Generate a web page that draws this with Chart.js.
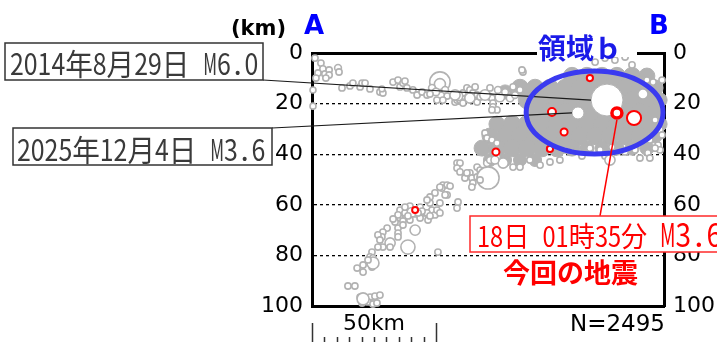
<!DOCTYPE html>
<html lang="ja">
<head>
<meta charset="utf-8">
<title>断面図 A-B</title>
<script src="https://cdn.jsdelivr.net/npm/chart.js@4.4.1/dist/chart.umd.min.js"></script>
<style>
  html, body { margin: 0; padding: 0; background: #fff; }
  #wrap { width: 717px; height: 342px; }
</style>
</head>
<body>
<div id="wrap"><canvas id="quakeChart" width="717" height="342"></canvas></div>
<script>
// 断面 A-B : 横軸は A からの距離(km)、縦軸は深さ(km)
const distMax = 142;
const depthTicks = [0, 20, 40, 60, 80, 100];
const totalCount = 2495;

// 過去の地震（灰色の○）
const grayDist = [1.2, 3.6, 4.4, 2.4, 5.2, 6.9, 6.9, 1.6, 5.6, 10.5, 10.9, 0.4, 0.4, 12.1, 15.3, 16.5, 19.4, 20.2, 21.4, 23.4,
  27.4, 28.6, 28.2, 32.7, 34.7, 35.5, 36.7, 37.5, 38.3, 40.7, 42.4, 44.4, 46.4, 50.4, 51.6, 51.6, 48.4, 50.0, 53.7, 47.6,
  54.5, 52.8, 56.9, 57.7, 58.5, 59.7, 60.9, 60.9, 62.5, 62.9, 63.7, 64.9, 65.8, 66.6, 66.6, 67.8, 71.8, 71.8, 72.6, 73.0,
  73.0, 74.6, 72.6, 78.7, 81.1, 83.9, 85.1, 58.9, 63.7, 69.8, 75.8, 77.9, 75.0, 79.9, 81.9, 57.7,
  135.1, 137.6, 141.2, 118.2, 122.2, 126.3, 114.2, 129.1, 84.7,
  69.8, 70.6, 72.6, 74.6,
  58.5, 59.7, 58.5, 59.7, 63.7, 66.6, 61.7, 62.5, 64.5, 66.6, 67.8, 69.0, 70.6, 71.8, 74.6, 77.1, 71.0, 64.9, 64.5, 67.8,
  81.1, 83.9, 52.8, 54.5, 55.7, 52.4, 51.6, 54.5, 53.7, 51.6, 47.6, 49.6, 47.6, 46.4, 58.9, 58.5,
  35.5, 37.5, 39.5, 43.6, 45.6, 48.4, 49.6, 35.5, 33.5, 39.5, 43.6, 46.8, 46.4, 50.4, 51.6, 41.6, 37.5, 34.7, 32.7, 40.3,
  44.4, 38.7, 42.8, 47.6, 36.7, 41.6, 34.7, 36.7, 34.7, 30.3, 28.6, 28.2, 26.6, 31.5, 38.7, 31.5, 28.6, 34.7, 27.4, 24.2,
  23.4, 24.6, 25.4, 20.6, 18.2, 20.6, 24.2, 24.6, 22.6, 26.6, 50.8, 14.5, 17.3, 19.4, 21.4, 23.4, 25.4, 27.4, 20.2, 22.6,
  24.6, 26.2, 20.6,
  138.4, 140.4, 136.3, 139.6, 141.2, 140.4,
  112.1, 116.2, 121.0, 126.3, 130.3, 135.5, 138.4, 108.9, 118.2, 120.2, 132.3, 136.3, 104.9, 102.1, 100.0, 96.0, 92.0, 87.9,
  133.5, 73.8];
const grayDepth = [2.0, 4.0, 6.3, 7.9, 8.3, 6.7, 8.7, 9.9, 9.9, 5.9, 7.5, 14.6, 21.0, 13.8, 13.0, 11.9, 13.4, 11.9, 11.9, 14.2,
  15.4, 15.8, 14.2, 11.5, 10.7, 13.4, 11.9, 11.1, 13.8, 14.6, 16.6, 15.4, 16.6, 18.6, 11.5, 12.3, 13.8, 15.4, 14.6, 16.2,
  17.0, 18.6, 16.6, 19.4, 18.6, 18.6, 19.8, 15.8, 13.8, 17.8, 14.6, 15.8, 13.4, 16.6, 19.4, 17.4, 13.8, 17.4, 17.8, 19.8,
  21.3, 22.5, 22.5, 15.8, 13.4, 14.6, 7.5, 17.0, 17.8, 16.6, 17.4, 15.4, 14.6, 17.8, 16.6, 16.6,
  10.7, 11.5, 10.7, 2.0, 2.8, 1.6, 3.6, 4.7, 6.7,
  31.6, 33.6, 34.4, 35.6,
  43.5, 43.5, 45.5, 47.0, 47.4, 45.1, 49.4, 47.4, 49.4, 49.0, 46.3, 47.0, 43.5, 42.3, 41.1, 43.5, 49.4, 51.4, 53.0, 50.2,
  45.1, 45.1, 52.2, 52.2, 52.6, 53.4, 53.0, 56.1, 56.1, 59.3, 59.3, 55.3, 56.9, 58.1, 58.9, 61.3,
  62.1, 63.2, 60.5, 60.9, 63.2, 62.1, 64.0, 65.2, 66.8, 66.0, 65.2, 66.0, 63.2, 62.1, 63.2, 63.6, 60.9, 64.0, 65.6, 62.9,
  62.5, 64.4, 63.2, 64.4, 66.4, 70.0, 69.2, 68.0, 71.2, 69.2, 70.8, 72.7, 71.9, 75.1, 76.7, 76.7, 76.7, 72.7, 73.9, 78.7,
  80.6, 81.0, 83.0, 83.8, 85.0, 86.6, 84.6, 83.0, 81.8, 76.7, 78.7, 92.1, 92.1, 96.5, 96.8, 96.5, 96.1, 95.7, 98.8, 98.4,
  99.2, 98.8, 97.2,
  26.5, 30.4, 34.4, 36.4, 32.4, 38.3,
  37.6, 38.3, 37.2, 39.1, 38.3, 39.5, 37.6, 40.7, 40.7, 42.3, 41.5, 41.5, 39.1, 38.3, 42.3, 43.1, 44.3, 42.3,
  16.2, 42.3];
const grayMag = [2.0, 2.0, 2.0, 2.0, 2.0, 2.0, 2.0, 2.0, 2.0, 2.2, 2.0, 1.9, 1.9, 2.0, 2.0, 2.0, 2.0, 2.0, 2.0, 2.0,
  2.0, 2.0, 1.8, 2.0, 2.0, 2.0, 2.0, 2.0, 2.0, 2.0, 2.0, 2.0, 2.0, 2.0, 4.9, 3.4, 2.2, 2.4, 2.2, 2.0,
  2.0, 2.0, 2.2, 2.0, 2.0, 2.0, 2.0, 2.0, 2.0, 2.0, 2.0, 2.0, 2.0, 2.0, 2.0, 2.0, 2.0, 2.0, 2.0, 2.0,
  2.0, 2.0, 2.0, 2.0, 2.0, 2.0, 2.0, 3.0, 3.2, 3.3, 3.0, 2.2, 2.2, 2.4, 2.2, 3.2,
  2.0, 2.0, 2.0, 2.0, 2.0, 2.0, 2.0, 2.0, 2.0,
  2.0, 2.0, 2.0, 2.0,
  2.0, 2.0, 2.0, 2.0, 2.0, 2.0, 2.0, 2.0, 2.0, 2.0, 2.0, 2.0, 2.2, 2.2, 2.2, 3.2, 5.1, 2.0, 2.0, 2.0,
  2.0, 2.0, 2.0, 2.0, 2.0, 2.0, 2.0, 2.0, 2.0, 2.0, 2.0, 2.0, 2.0, 2.0, 2.0, 2.0,
  2.0, 2.0, 2.0, 2.0, 2.0, 2.0, 2.0, 2.0, 2.0, 2.0, 2.0, 2.0, 2.0, 2.0, 2.0, 2.0, 2.0, 2.0, 2.0, 3.0,
  2.0, 2.0, 2.0, 2.0, 2.0, 3.2, 2.0, 2.0, 2.0, 2.0, 2.0, 2.0, 2.0, 3.2, 4.0, 2.0, 2.0, 2.0, 2.0, 2.0,
  2.0, 2.0, 2.0, 2.0, 2.0, 2.0, 2.0, 3.6, 2.0, 2.0, 2.0, 2.0, 2.0, 2.0, 2.0, 2.0, 2.0, 2.0, 2.0, 2.0,
  2.0, 2.0, 3.6,
  2.0, 2.0, 2.0, 2.0, 2.0, 2.0,
  2.0, 2.0, 2.0, 2.0, 2.0, 2.0, 2.0, 2.0, 2.0, 3.2, 2.0, 2.0, 2.0, 2.0, 2.0, 2.0, 2.0, 2.0,
  3.2, 2.6];

// 領域ｂ付近の密集部（重なった○は塗りつぶしに見える）
const clusterDist = [104.9, 110.9, 117.0, 123.0, 129.1, 135.1,
  77.9, 83.9, 90.0, 96.0, 102.1, 108.1, 114.2, 120.2, 126.3, 132.3, 138.4,
  86.7, 92.8, 98.8, 104.9, 110.9, 117.0, 123.0, 129.1, 135.1, 140.4,
  90.0, 96.0, 102.1, 108.1, 114.2, 120.2, 126.3, 132.3, 138.4,
  74.6, 80.7, 86.7, 92.8, 98.8, 104.9, 110.9, 117.0, 123.0, 129.1, 135.1, 140.4,
  71.8, 77.9, 83.9, 90.0, 96.0, 102.1, 108.1, 114.2, 120.2, 126.3, 132.3, 138.4,
  68.6, 74.6, 80.7, 86.7, 92.8, 98.8, 104.9, 110.9, 117.0, 123.0, 129.1, 135.1,
  71.8, 77.9, 83.9, 90.0];
const clusterDepth = [9.1, 9.1, 9.1, 9.1, 9.1, 9.1,
  15.4, 13.8, 13.8, 13.8, 13.8, 13.8, 13.8, 13.8, 13.8, 13.8, 13.8,
  18.6, 18.6, 18.6, 18.6, 18.6, 18.6, 18.6, 18.6, 18.6, 18.6,
  23.3, 23.3, 23.3, 23.3, 23.3, 23.3, 23.3, 23.3, 23.3,
  28.1, 28.1, 28.1, 28.1, 28.1, 28.1, 28.1, 28.1, 28.1, 28.1, 28.1, 28.1,
  32.8, 32.8, 32.8, 32.8, 32.8, 32.8, 32.8, 32.8, 32.8, 32.8, 32.8, 32.8,
  37.6, 37.6, 37.6, 37.6, 37.6, 37.6, 37.6, 37.6, 37.6, 37.6, 37.6, 37.6,
  42.3, 42.3, 42.3, 42.3];
const clusterMag = [4.5, 4.5, 4.5, 4.5, 4.5, 4.3,
  4.0, 4.5, 4.5, 4.5, 4.5, 4.5, 4.5, 4.5, 4.5, 4.5, 4.3,
  4.5, 4.5, 4.5, 4.5, 4.5, 4.5, 4.5, 4.5, 4.5, 4.0,
  4.5, 4.5, 4.5, 4.5, 4.5, 4.5, 4.5, 4.5, 4.3,
  4.3, 4.5, 4.5, 4.5, 4.5, 4.5, 4.5, 4.5, 4.5, 4.5, 4.5, 4.0,
  4.3, 4.5, 4.5, 4.5, 4.5, 4.5, 4.5, 4.5, 4.5, 4.5, 4.5, 4.0,
  4.3, 4.5, 4.5, 4.5, 4.5, 4.5, 4.3, 4.0, 4.0, 4.0, 4.0, 4.0,
  3.8, 3.8, 3.8, 3.8];

// 吹き出しのある過去の地震
const noteLabels = ['2014年8月29日 M6.0', '2025年12月4日 M3.6'];
const noteDist = [119.0, 107.3];
const noteDepth = [18.6, 23.7];
const noteMag = [6.0, 3.6];

// 最近の地震（赤の○）
const recentDist = [96.8, 101.7, 74.2, 96.0, 112.1, 129.9, 41.6];
const recentDepth = [23.3, 31.2, 39.1, 37.9, 9.9, 25.7, 62.1];
const recentMag = [2.6, 2.3, 2.3, 2.0, 2.0, 4.0, 1.9];

// 今回の地震
const mainTime = '18日 01時35分';
const mainMagLabel = 'M3.6';
const mainDist = [123.0];
const mainDepth = [23.7];
const mainMag = [3.6];

// 領域ｂ（楕円）
const regionB = { dist: 114.0, depth: 23.5, halfDist: 27.6, halfDepth: 16.4 };
const scaleBarKm = 50;
const scaleBarStep = 5;

const GRAY = '#b2b2b2';

function radiusOf(m) {
  return 6 * Math.pow(10, 0.1775 * (m - 3.6));
}
function pts(xs, ys) {
  return xs.map((v, i) => ({ x: v, y: ys[i] }));
}

// 全角は1文字分、半角は半分の幅で描く（等幅ゴシック風）
function drawGothic(ctx, text, x, baseline, cell, color) {
  ctx.save();
  ctx.fillStyle = color;
  ctx.font = Math.round(cell * 1.08) + 'px "Noto Sans CJK JP"';
  ctx.textAlign = 'center';
  ctx.textBaseline = 'alphabetic';
  for (const ch of text) {
    const w = ch.charCodeAt(0) < 256 ? cell / 2 : cell;
    if (ch !== ' ') {
      const m = ctx.measureText(ch).width;
      ctx.save();
      ctx.translate(x + w / 2, baseline);
      ctx.scale(Math.min(1, w / m), 1);
      ctx.fillText(ch, 0, 0);
      ctx.restore();
    }
    x += w;
  }
  ctx.restore();
}

const notesPlugin = {
  id: 'notes',
  afterDatasetsDraw(chart) {
    const ctx = chart.ctx;
    const xs = chart.scales.x, ys = chart.scales.y;

    // 吹き出し（黒）
    const boxes = [
      { l: 5, t: 43, r: 263, b: 80, tx: 10, base: 75, from: [263, 80] },
      { l: 13, t: 128, r: 272, b: 165, tx: 17, base: 161, from: [272, 128] }
    ];
    ctx.save();
    ctx.strokeStyle = '#1a1a1a';
    ctx.lineWidth = 1.2;
    boxes.forEach((bx, i) => {
      const px = xs.getPixelForValue(noteDist[i]) - radiusOf(noteMag[i]);
      const py = ys.getPixelForValue(noteDepth[i]);
      ctx.beginPath();
      ctx.moveTo(bx.from[0], bx.from[1]);
      ctx.lineTo(px, py);
      ctx.stroke();
    });
    ctx.restore();
    boxes.forEach((bx, i) => {
      ctx.save();
      ctx.fillStyle = '#fff';
      ctx.fillRect(bx.l, bx.t, bx.r - bx.l, bx.b - bx.t);
      ctx.strokeStyle = '#333';
      ctx.lineWidth = 1.5;
      ctx.strokeRect(bx.l, bx.t, bx.r - bx.l, bx.b - bx.t);
      ctx.restore();
      drawGothic(ctx, noteLabels[i], bx.tx, bx.base, 27.6, '#3a3a3a');
    });

    // 領域ｂ
    ctx.save();
    const cx = xs.getPixelForValue(regionB.dist), cy = ys.getPixelForValue(regionB.depth);
    const rx = xs.getPixelForValue(regionB.dist + regionB.halfDist) - cx;
    const ry = ys.getPixelForValue(regionB.depth + regionB.halfDepth) - cy;
    ctx.strokeStyle = '#3a3af0';
    ctx.lineWidth = 5;
    ctx.beginPath();
    ctx.ellipse(cx, cy, rx, Math.abs(ry), 0, 0, Math.PI * 2);
    ctx.stroke();
    ctx.restore();

    ctx.save();
    ctx.fillStyle = '#fff';
    ctx.fillRect(537, 44, 100, 13);
    ctx.fillStyle = '#1a1ae8';
    ctx.font = 'bold 28px "Noto Sans CJK JP"';
    ctx.textBaseline = 'alphabetic';
    ctx.fillText('領域ｂ', 538, 59);
    ctx.restore();

    // 今回の地震
    const mx = xs.getPixelForValue(mainDist[0]), my = ys.getPixelForValue(mainDepth[0]);
    ctx.save();
    ctx.strokeStyle = '#ff0000';
    ctx.lineWidth = 1.5;
    ctx.beginPath();
    ctx.moveTo(mx, my + radiusOf(mainMag[0]) + 1);
    ctx.lineTo(600, 216);
    ctx.stroke();
    ctx.fillStyle = '#fff';
    ctx.fillRect(470, 216, 260, 36);
    ctx.strokeStyle = '#ff2a2a';
    ctx.strokeRect(470, 216, 260, 36);
    ctx.restore();
    drawGothic(ctx, mainTime, 477, 247, 26.2, '#ff0000');
    drawGothic(ctx, mainMagLabel, 660, 247, 31, '#ff0000');
    ctx.save();
    ctx.fillStyle = '#ff0000';
    ctx.font = 'bold 27px "Noto Sans CJK JP"';
    ctx.fillText('今回の地震', 503, 283);
    ctx.restore();

    // 軸ラベル
    ctx.save();
    ctx.fillStyle = '#000';
    ctx.font = 'bold 21px "DejaVu Sans"';
    ctx.fillText('(km)', 231, 35);
    ctx.fillStyle = '#0000ff';
    ctx.font = 'bold 26px "DejaVu Sans"';
    ctx.fillText('A', 304, 34);
    ctx.fillText('B', 649, 34);

    // 縮尺
    const x0 = xs.getPixelForValue(0), x1 = xs.getPixelForValue(scaleBarKm);
    ctx.strokeStyle = '#333';
    ctx.lineWidth = 1.5;
    ctx.beginPath();
    for (let k = 0; k <= scaleBarKm; k += scaleBarStep) {
      const p = Math.round(xs.getPixelForValue(k)) + 0.5;
      const top = (k === 0 || k === scaleBarKm) ? 323 : 337;
      ctx.moveTo(p, top);
      ctx.lineTo(p, 343);
    }
    ctx.stroke();
    ctx.fillStyle = '#000';
    ctx.font = '22px "DejaVu Sans"';
    ctx.textAlign = 'center';
    ctx.fillText(scaleBarKm + 'km', (x0 + x1) / 2, 330);
    ctx.font = '23px "DejaVu Sans"';
    ctx.textAlign = 'right';
    ctx.fillText('N=' + totalCount, 665, 331);
    ctx.restore();
  }
};

const tickFont = { family: 'DejaVu Sans', size: 22 };

new Chart(document.getElementById('quakeChart'), {
  type: 'scatter',
  data: {
    datasets: [
      {
        label: 'cluster', order: 5, clip: false,
        data: pts(clusterDist, clusterDepth),
        pointRadius: c => radiusOf(clusterMag[c.dataIndex]),
        pointBackgroundColor: GRAY, pointBorderColor: GRAY, pointBorderWidth: 1
      },
      {
        label: 'past', order: 4, clip: false,
        data: pts(grayDist, grayDepth),
        pointRadius: c => radiusOf(grayMag[c.dataIndex]),
        pointBackgroundColor: '#fff', pointBorderColor: GRAY, pointBorderWidth: 1.6
      },
      {
        label: 'notes', order: 3, clip: false,
        data: pts(noteDist, noteDepth),
        pointRadius: c => radiusOf(noteMag[c.dataIndex]),
        pointBackgroundColor: '#fff', pointBorderColor: GRAY, pointBorderWidth: 1
      },
      {
        label: 'recent', order: 2, clip: false,
        data: pts(recentDist, recentDepth),
        pointRadius: c => radiusOf(recentMag[c.dataIndex]),
        pointBackgroundColor: '#fff', pointBorderColor: '#ff0000', pointBorderWidth: 2
      },
      {
        label: 'main', order: 1, clip: false,
        data: pts(mainDist, mainDepth),
        pointRadius: c => radiusOf(mainMag[c.dataIndex]) - 1,
        pointBackgroundColor: '#fff', pointBorderColor: '#ff0000', pointBorderWidth: 3.5
      }
    ]
  },
  options: {
    responsive: false,
    animation: false,
    events: [],
    layout: { padding: 0 },
    plugins: { legend: { display: false }, tooltip: { enabled: false } },
    scales: {
      x: {
        type: 'linear', position: 'bottom', min: 0, max: distMax,
        ticks: { display: false }, grid: { display: false },
        border: { display: true, color: '#000', width: 3 },
        afterFit: s => { s.height = 36; }
      },
      x2: {
        type: 'linear', position: 'top', min: 0, max: distMax,
        ticks: { display: false }, grid: { display: false },
        border: { display: true, color: '#000', width: 3 },
        afterFit: s => { s.height = 53; }
      },
      y: {
        type: 'linear', position: 'left', min: 0, max: 100, reverse: true,
        afterBuildTicks: s => { s.ticks = depthTicks.map(v => ({ value: v })); },
        ticks: { font: tickFont, color: '#000', padding: 9 },
        grid: { color: '#000', lineWidth: 1.3, drawTicks: false },
        border: { display: true, color: '#000', width: 3, dash: [3, 3] },
        afterFit: s => { s.width = 312; }
      },
      y2: {
        type: 'linear', position: 'right', min: 0, max: 100, reverse: true,
        afterBuildTicks: s => { s.ticks = depthTicks.map(v => ({ value: v })); },
        ticks: { font: tickFont, color: '#000', padding: 9 },
        grid: { display: false, drawTicks: false },
        border: { display: true, color: '#000', width: 3 },
        afterFit: s => { s.width = 53; }
      }
    }
  },
  plugins: [notesPlugin]
});
</script>
</body>
</html>
